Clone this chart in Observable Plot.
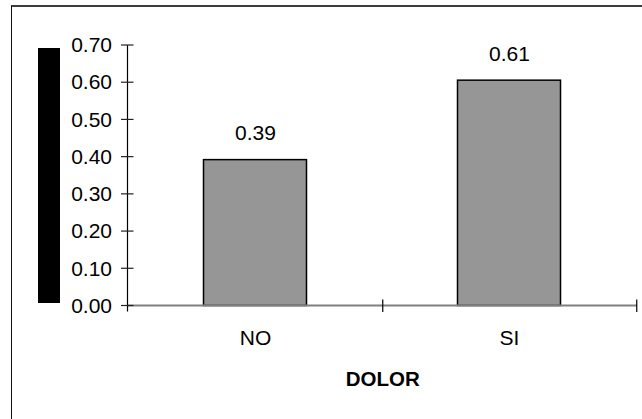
<!DOCTYPE html>
<html>
<head>
<meta charset="utf-8">
<script src="https://cdn.jsdelivr.net/npm/d3@7"></script>
<script src="https://cdn.jsdelivr.net/npm/@observablehq/plot@0.6"></script>
<style>
  html, body { margin: 0; padding: 0; background: #fff; }
  #wrap { position: relative; width: 642px; height: 419px; overflow: hidden; }
  #border { position: absolute; left: 11px; top: 5px; width: 700px; height: 500px;
            border-top: 2px solid #3c3c3c; border-left: 1.5px solid #111; box-sizing: border-box; }
  #ybox { position: absolute; left: 38px; top: 48px; width: 22px; height: 255px; background: #000; }
</style>
</head>
<body>
<div id="wrap"><div id="border"></div><div id="ybox"></div></div>
<script>
const categories = ["NO", "SI"];
const values = [0.392, 0.6055];
const yTicks = [0, 0.1, 0.2, 0.3, 0.4, 0.5, 0.6, 0.7];
const xLabel = "DOLOR";

const data = categories.map((c, i) => ({cat: c, val: values[i]}));
const fmt = d3.format(".2f");

function axesDecor(index, scales, vals, dims) {
  const {marginLeft: ml, marginRight: mr, width: w} = dims;
  const x = scales.x, y = scales.y;
  const g = d3.create("svg:g");
  const y0 = y(0);
  g.append("line").attr("x1", ml).attr("x2", w - mr).attr("y1", y0).attr("y2", y0)
    .attr("stroke", "#808080").attr("stroke-width", 2);
  g.append("line").attr("x1", ml).attr("x2", ml).attr("y1", y(yTicks[yTicks.length - 1])).attr("y2", y0 + 6)
    .attr("stroke", "#000").attr("stroke-width", 1.2);
  for (const t of yTicks) {
    g.append("line").attr("x1", ml - 6.5).attr("x2", ml + 6).attr("y1", y(t)).attr("y2", y(t))
      .attr("stroke", "#222").attr("stroke-width", 1.2);
  }
  const bw = (w - ml - mr) / categories.length;
  for (const c of categories) {
    const xb = x(c) + bw;
    g.append("line").attr("x1", xb).attr("x2", xb).attr("y1", y0 - 6).attr("y2", y0 + 6.5)
      .attr("stroke", "#000").attr("stroke-width", 1.2);
  }
  return g.node();
}

const chart = Plot.plot({
  width: 642,
  height: 419,
  marginLeft: 127.5,
  marginRight: 5,
  marginTop: 45,
  marginBottom: 113.5,
  style: {fontFamily: "'Liberation Sans', Arial, sans-serif", fontSize: "21px", background: "transparent", color: "#000"},
  x: {domain: categories, padding: 0},
  y: {domain: [0, 0.7]},
  marks: [
    Plot.barY(data, {x: "cat", y: "val", fill: "#969696", stroke: "#000", strokeWidth: 1.5, insetLeft: 75.5, insetRight: 75.5}),
    axesDecor,
    Plot.axisY(yTicks, {tickSize: 0, tickPadding: 16, tickFormat: fmt, label: null, fontSize: 21}),
    Plot.axisX({tickSize: 0, tickPadding: 24, label: null, fontSize: 21}),
    Plot.text(data, {x: "cat", y: "val", text: d => fmt(d.val), dy: -26.5, fontSize: 21, lineAnchor: "middle"}),
    Plot.text([xLabel], {frameAnchor: "bottom", dy: 73, fontSize: 20.5, fontWeight: "bold", lineAnchor: "middle"})
  ]
});
chart.style.position = "absolute";
chart.style.left = "0px";
chart.style.top = "0px";
document.getElementById("wrap").appendChild(chart);
</script>
</body>
</html>
